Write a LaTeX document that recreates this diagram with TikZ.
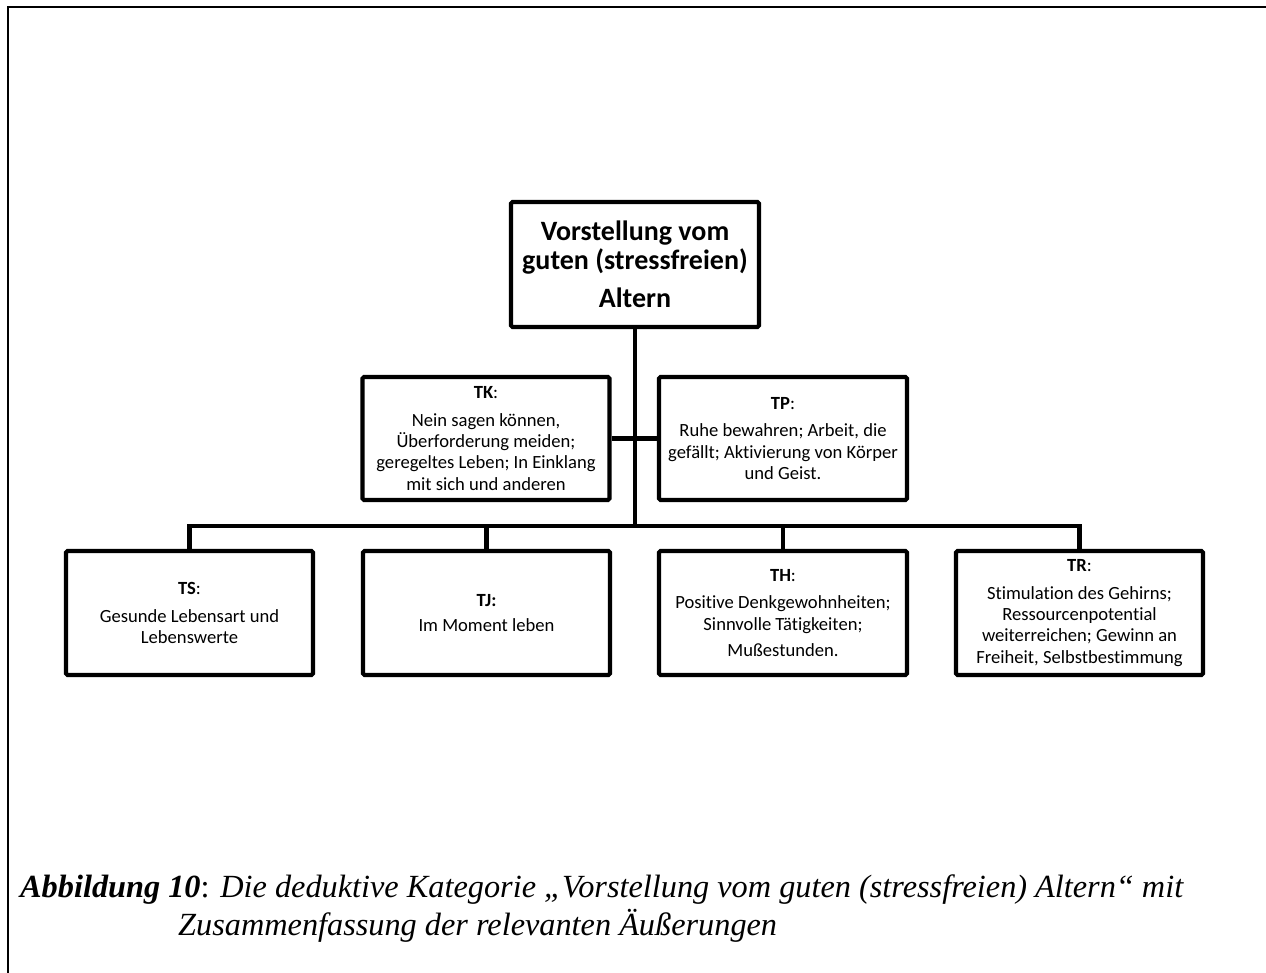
\documentclass[tikz,border=0pt]{standalone}
\usepackage{fontspec}
\setmainfont{Carlito}[Ligatures=NoCommon]
\newfontfamily\capfont{Liberation Serif}
\begin{document}
\begin{tikzpicture}[x=1pt,y=-1pt,
  box/.style={draw, line width=4.2pt, rounded corners=1.5pt, inner sep=0pt, align=center,
    font=\fontsize{18.6}{21.3}\selectfont},
  small/.style={box, minimum width=247pt, minimum height=124pt},
  conn/.style={line width=4.2pt, line join=miter},
  frameline/.style={line width=2.4pt},
  captext/.style={anchor=base west, inner sep=0pt, font=\capfont\fontsize{32.3}{38}\selectfont\itshape}
]
\useasboundingbox (0,0) rectangle (1266,973);
\draw[frameline] (8,973) -- (8,7) -- (1266,7);

\node[box, minimum width=248pt, minimum height=125pt, font=\fontsize{28}{28.5}\selectfont\bfseries] (root) at (635,264.5)
  {Vorstellung vom\\guten (stressfreien)\\[10pt]Altern};

\node[small, minimum height=123pt] (TK) at (486,438.5)
  {\textbf{TK}:\\[6pt]Nein sagen können,\\Überforderung meiden;\\geregeltes Leben; In Einklang\\mit sich und anderen};
\node[small, minimum width=248pt, minimum height=123pt] (TP) at (783,438.5)
  {\textbf{TP}:\\[6pt]Ruhe bewahren; Arbeit, die\\gefällt; Aktivierung von Körper\\und Geist.};

\node[small] (TS) at (189.5,613)
  {\textbf{TS}:\\[6pt]Gesunde Lebensart und\\Lebenswerte};
\node[small] (TJ) at (486.5,613)
  {\textbf{TJ:}\\[3pt]Im Moment leben};
\node[small, minimum width=248pt] (TH) at (783,613)
  {\textbf{TH}:\\[6pt]Positive Denkgewohnheiten;\\Sinnvolle Tätigkeiten;\\[5pt]Mußestunden.};
\node[small] (TR) at (1079.5,613)
  {\textbf{TR}:\\[6pt]Stimulation des Gehirns;\\Ressourcenpotential\\weiterreichen; Gewinn an\\Freiheit, Selbstbestimmung};

\coordinate (bus) at (635,526);
\draw[conn] (root.south) -- (bus);
\draw[conn] (TK.east) -- (TP.west);
\draw[conn] (TS.north) |- (bus) -| (TR.north);
\draw[conn] (TJ.north) -- (TJ.north |- bus);
\draw[conn] (TH.north) -- (TH.north |- bus);

\node[captext] (cap1) at (20,897) {\textbf{Abbildung 10}\upshape:\itshape{} Die deduktive Kategorie „Vorstellung vom guten (stressfreien) Altern“ mit};
\node[captext] (cap2) at (178,935) {Zusammenfassung der relevanten Äußerungen};
\end{tikzpicture}
\end{document}
